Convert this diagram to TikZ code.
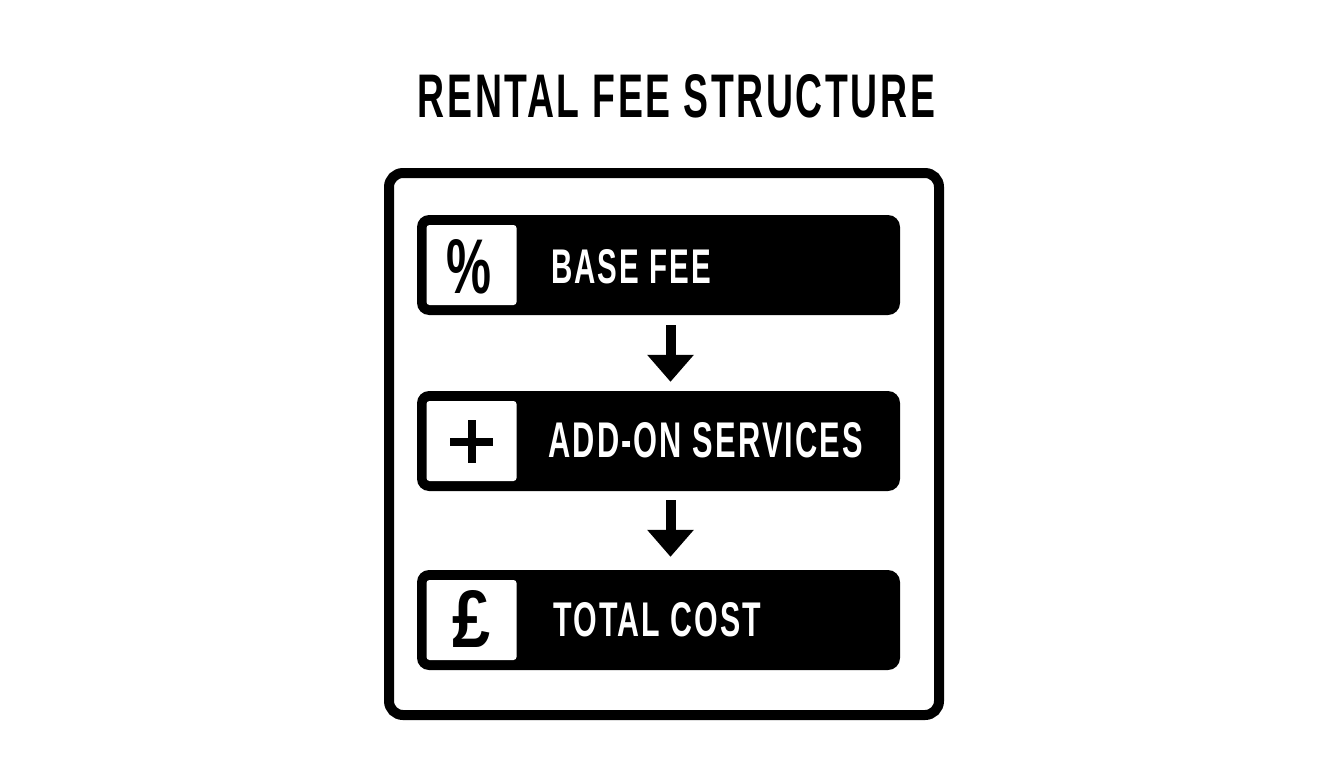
\documentclass[tikz,border=0pt]{standalone}
\usepackage{fontspec}
\setmainfont{Liberation Sans}
\newfontfamily\spaced[LetterSpace=7]{Liberation Sans}
\usetikzlibrary{arrows.meta}
\begin{document}
\begin{tikzpicture}[x=1pt,y=-1pt,
  frame/.style={draw=black, line width=10pt, rounded corners=14pt, minimum width=550pt, minimum height=542pt, inner sep=0pt},
  bar/.style={fill=black, rounded corners=12pt, minimum width=483pt, minimum height=100pt, inner sep=0pt},
  iconbox/.style={fill=white, rounded corners=3pt, minimum width=90pt, minimum height=80pt, inner sep=0pt},
  lbl/.style={text=white, anchor=west, inner sep=0pt},
  glyph/.style={text=black, inner sep=0pt},
  flow/.style={line width=10pt, -{Triangle[width=45pt,length=27pt]}}
]
\path[use as bounding box] (0,0) rectangle (1344,768);
\node[inner sep=0pt] (title) at (676.5,96.5) {\resizebox{517pt}{43pt}{\spaced\bfseries RENTAL FEE STRUCTURE}};
\node[frame] (frame) at (664,444) {};
% bars
\node[bar] (b1) at (658.5,265) {};
\node[bar] (b2) at (658.5,441) {};
\node[bar] (b3) at (658.5,620) {};
% icon boxes
\node[iconbox] (i1) at (471.5,265) {};
\node[iconbox] (i2) at (471.5,441) {};
\node[iconbox] (i3) at (471.5,620) {};
% icons
\node[glyph] (pct) at (468.5,267) {\resizebox{45pt}{54pt}{\bfseries\%}};
\coordinate (pc) at (471.5,441.5);
\fill[black] ([xshift=-21.5pt,yshift=4pt]pc) rectangle ([xshift=21.5pt,yshift=-4pt]pc);
\fill[black] ([xshift=-4pt,yshift=21.5pt]pc) rectangle ([xshift=4pt,yshift=-21.5pt]pc);
\node[glyph] (gbp) at (472,618.5) {\resizebox{38pt}{57pt}{\bfseries £}};
% labels
\node[lbl] (l1) at (551,267) {\resizebox{160pt}{34pt}{\spaced\bfseries BASE FEE}};
\node[lbl] (l2) at (548,440.5) {\resizebox{315pt}{35pt}{\spaced\bfseries ADD-ON SERVICES}};
\node[lbl] (l3) at (553,620) {\resizebox{208pt}{34pt}{\spaced\bfseries TOTAL COST}};
% arrows
\draw[flow, shorten <=10pt, shorten >=9pt] ([xshift=12pt]b1.south) -- ([xshift=12pt]b2.north);
\draw[flow, shorten <=9pt, shorten >=13pt] ([xshift=12pt]b2.south) -- ([xshift=12pt]b3.north);
\end{tikzpicture}
\end{document}
